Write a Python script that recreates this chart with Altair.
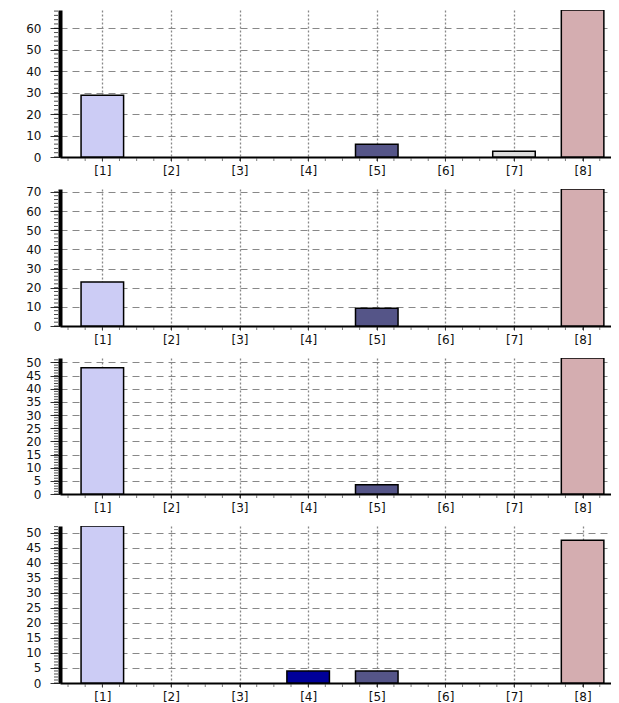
import json
import altair as alt
import pandas as pd

# ---- data ----
categories = ["[1]", "[2]", "[3]", "[4]", "[5]", "[6]", "[7]", "[8]"]
panel1_values = [28.8, 0, 0, 0, 5.9, 0, 2.7, 68.5]
panel2_values = [23.0, 0, 0, 0, 9.3, 0, 0, 71.5]
panel3_values = [48.0, 0, 0, 0, 3.5, 0, 0, 51.7]
panel4_values = [52.2, 0, 0, 4.0, 4.0, 0, 0, 47.5]
panel_values = [panel1_values, panel2_values, panel3_values, panel4_values]

y_tops = [68.5, 71.5, 51.7, 52.2]
y_major_steps = [10, 10, 5, 5]
y_minor_steps = [2, 2, 1, 1]
panel_heights = [147, 137, 136, 157]

bar_colors = ["#ccccf5", "#9999cc", "#7777aa", "#000099",
              "#555588", "#aaaacc", "#dddddd", "#d4adb0"]

X_DOMAIN = [0.383, 8.414]
PLOT_W = 551
FONT = "DejaVu Sans"

label_expr = json.dumps(categories) + "[datum.value - 1]"
x_minor = [i / 4 for i in range(2, 34)]


def panel(values, top, major, minor, h):
    df = pd.DataFrame({"cat": categories,
                       "idx": list(range(1, len(categories) + 1)),
                       "value": values})
    yscale = alt.Scale(domain=[0, top], nice=False, zero=True)
    xscale = alt.Scale(domain=X_DOMAIN, nice=False, zero=False)
    majors = list(range(0, int(top) + 1, major))
    minors = [v for v in range(0, int(top) + 1, minor)]

    xaxis = alt.Axis(values=list(range(1, 9)), labelExpr=label_expr,
                     grid=True, gridDash=[2, 2], gridColor="#888888",
                     gridWidth=1.3, tickSize=4, tickColor="#333333",
                     domainColor="black", domainWidth=2,
                     labelPadding=4, title=None, labelFontSize=12,
                     labelFont=FONT, labelColor="#111111")
    yaxis = alt.Axis(values=majors, grid=True, gridDash=[7, 5],
                     gridColor="#888888", gridWidth=1,
                     tickSize=10, tickColor="#333333",
                     domainColor="black", domainWidth=4,
                     labelPadding=9, title=None, labelFontSize=12,
                     labelFont=FONT, labelColor="#111111")

    bars = alt.Chart(df).transform_filter("datum.value > 0").transform_calculate(
        x0="datum.idx - 0.31", x1="datum.idx + 0.31"
    ).mark_bar(stroke="black", strokeWidth=1.5, clip=True).encode(
        x=alt.X("x0:Q", scale=xscale, axis=xaxis),
        x2="x1:Q",
        y=alt.Y("value:Q", scale=yscale, axis=yaxis),
        y2=alt.datum(0),
        color=alt.Color("cat:N", scale=alt.Scale(domain=categories, range=bar_colors),
                        legend=None),
    )

    ymin = alt.Chart(pd.DataFrame({"v": minors})).mark_tick(
        orient="horizontal", size=4, thickness=1, color="black"
    ).encode(y=alt.Y("v:Q", scale=yscale, axis=yaxis), x=alt.value(-4))

    xmin = alt.Chart(pd.DataFrame({"v": x_minor})).mark_tick(
        orient="vertical", size=3, thickness=1, color="#444444"
    ).encode(x=alt.X("v:Q", scale=xscale, axis=xaxis), y=alt.value(h + 2.5))

    return alt.layer(bars, ymin, xmin).properties(width=PLOT_W, height=h)


charts = [panel(v, t, ma, mi, h) for v, t, ma, mi, h in
          zip(panel_values, y_tops, y_major_steps, y_minor_steps, panel_heights)]

chart = alt.vconcat(*charts, spacing=32, bounds="flush").properties(
    padding={"left": 17, "top": 2, "right": 0, "bottom": 0}
).configure_view(stroke=None)

chart.save("out.html", embed_options={"renderer": "svg", "actions": False})
